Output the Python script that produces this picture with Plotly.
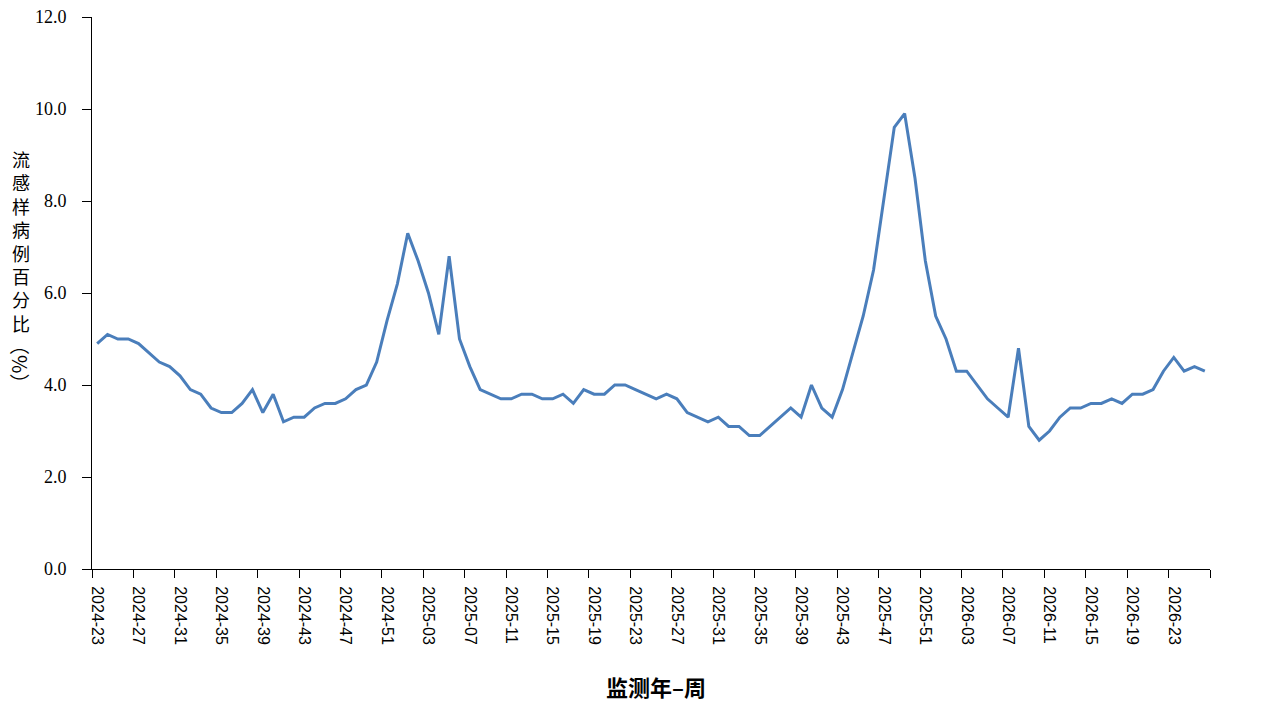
import plotly.graph_objects as go

# ---- data ----
year_week_ranges = [(2024, 23, 52), (2025, 1, 52), (2026, 1, 26)]
weeks = [f"{y}-{w:02d}" for (y, a, b) in year_week_ranges for w in range(a, b + 1)]

ili_percent = [
    4.9, 5.1, 5.0, 5.0, 4.9, 4.7, 4.5, 4.4, 4.2, 3.9,
    3.8, 3.5, 3.4, 3.4, 3.6, 3.9, 3.4, 3.8, 3.2, 3.3,
    3.3, 3.5, 3.6, 3.6, 3.7, 3.9, 4.0, 4.5, 5.4, 6.2,
    7.3, 6.7, 6.0, 5.1, 6.8, 5.0, 4.4, 3.9, 3.8, 3.7,
    3.7, 3.8, 3.8, 3.7, 3.7, 3.8, 3.6, 3.9, 3.8, 3.8,
    4.0, 4.0, 3.9, 3.8, 3.7, 3.8, 3.7, 3.4, 3.3, 3.2,
    3.3, 3.1, 3.1, 2.9, 2.9, 3.1, 3.3, 3.5, 3.3, 4.0,
    3.5, 3.3, 3.9, 4.7, 5.5, 6.5, 8.0, 9.6, 9.9, 8.5,
    6.7, 5.5, 5.0, 4.3, 4.3, 4.0, 3.7, 3.5, 3.3, 4.8,
    3.1, 2.8, 3.0, 3.3, 3.5, 3.5, 3.6, 3.6, 3.7, 3.6,
    3.8, 3.8, 3.9, 4.3, 4.6, 4.3, 4.4, 4.3,
]

x_title = "监测年–周"
y_title_main = "流感样病例百分比"
y_title_unit = "（%）"

# ---- layout constants ----
W, H = 1280, 720
ML, MR, MT, MB = 92, 70, 17, 151
PW, PH = W - ML - MR, H - MT - MB


def px_to_paper_x(px):
    return (px - ML) / PW


def px_to_paper_y(py):
    return (H - MB - py) / PH


n = len(weeks)
idx = list(range(n))
label_idx = idx[::4]
boundary_vals = [i - 0.5 for i in range(0, n + 1, 4)]

fig = go.Figure()
fig.add_trace(go.Scatter(
    x=idx, y=ili_percent, mode="lines",
    line=dict(color="#4A7EBB", width=3),
    text=weeks, hovertemplate="%{text}: %{y:.1f}<extra></extra>",
    showlegend=False,
))
# invisible companion trace so the label axis (x2) is drawn
fig.add_trace(go.Scatter(
    x=idx, y=ili_percent, xaxis="x2", mode="lines",
    line=dict(color="rgba(0,0,0,0)", width=0),
    hoverinfo="skip", showlegend=False,
))

fig.update_layout(
    width=W, height=H,
    margin=dict(l=ML, r=MR, t=MT, b=MB, pad=0, autoexpand=False),
    plot_bgcolor="white", paper_bgcolor="white",
    showlegend=False,
    xaxis=dict(
        range=[-0.5, n - 0.5], tickvals=boundary_vals, showticklabels=False,
        ticks="outside", ticklen=8, tickwidth=1, tickcolor="black",
        showline=True, linecolor="black", linewidth=1,
        showgrid=False, zeroline=False, automargin=False,
    ),
    xaxis2=dict(
        overlaying="x", side="bottom", anchor="y",
        range=[-0.5, n - 0.5], tickvals=label_idx,
        ticktext=[weeks[i] for i in label_idx], tickangle=90,
        ticks="outside", ticklen=8, tickcolor="rgba(0,0,0,0)",
        ticklabelstandoff=5,
        showline=False, showgrid=False, zeroline=False, automargin=False,
        tickfont=dict(family="Liberation Sans", size=16, color="black"),
    ),
    yaxis=dict(
        range=[0, 12], tick0=0, dtick=2, tickformat=".1f",
        ticks="outside", ticklen=9, tickwidth=1, tickcolor="black",
        ticklabelstandoff=12, automargin=False,
        showline=True, linecolor="black", linewidth=1,
        showgrid=False, zeroline=False,
        tickfont=dict(family="Liberation Serif", size=18, color="black"),
    ),
)

annotations = [dict(
    text=x_title, xref="paper", yref="paper",
    x=px_to_paper_x(656), y=px_to_paper_y(686),
    xanchor="center", yanchor="middle", showarrow=False,
    font=dict(family="Noto Sans CJK SC", size=22, color="black", weight="bold"),
)]
annotations.append(dict(
    text="<br>".join(y_title_main), xref="paper", yref="paper",
    x=px_to_paper_x(21), y=px_to_paper_y(241),
    xanchor="center", yanchor="middle", showarrow=False,
    font=dict(family="Noto Sans CJK SC", size=18, color="black"),
))
annotations.append(dict(
    text=y_title_unit, xref="paper", yref="paper",
    x=px_to_paper_x(21), y=px_to_paper_y(364), textangle=90,
    xanchor="center", yanchor="middle", showarrow=False,
    font=dict(family="Noto Sans CJK SC", size=20, color="black"),
))
fig.update_layout(annotations=annotations)

fig.write_html("out.html")
